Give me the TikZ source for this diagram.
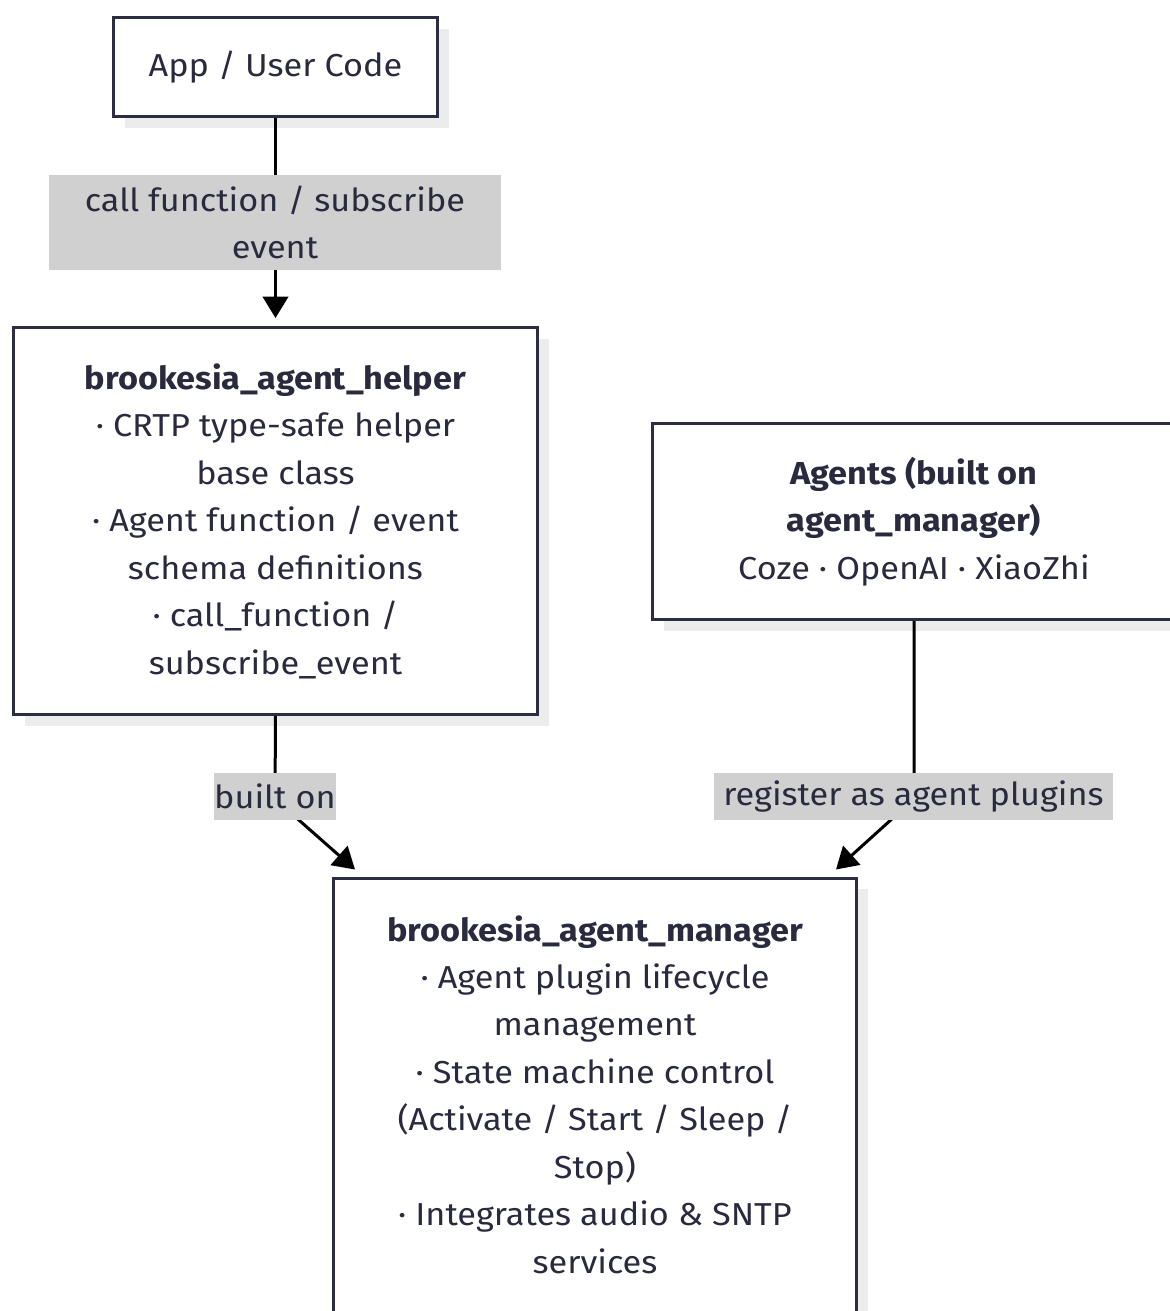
\documentclass[tikz,border=0pt]{standalone}
\usepackage{fontspec}
\setmainfont{Fira Sans}[FakeStretch=1.08]
\usetikzlibrary{arrows.meta,shadows}
\definecolor{ink}{HTML}{2A2A3E}
\definecolor{edgec}{HTML}{2D2D42}
\definecolor{shade}{HTML}{ECECEC}
\definecolor{lab}{HTML}{D0D0D0}
\newcommand\dgfont{\fontsize{23.8pt}{35.6pt}\selectfont}
\begin{document}
\begin{tikzpicture}[x=0.75pt,y=-0.75pt,
  box/.style={draw=edgec, line width=2.25pt, fill=white, text=ink, align=center,
    font=\dgfont, inner sep=0pt,
    drop shadow={shadow xshift=8.25pt, shadow yshift=-8.25pt, fill=shade, opacity=1}},
  txt/.style={text=ink, align=center, font=\dgfont, inner sep=0pt},
  lbl/.style={fill=lab, text=ink, align=center, font=\dgfont, inner sep=0pt},
  conn/.style={line width=2.25pt, black, -{Triangle[length=16pt,width=19pt]}}]
\useasboundingbox (0,0) rectangle (1170,1311);
\clip (0,0) rectangle (1170,1311);
\fill[white] (0,0) rectangle (1170,1311);

\node[box, minimum width=243pt, minimum height=74.25pt] (app) at (275.5,67) {App / User Code};

\node[box, minimum width=393pt, minimum height=290.25pt] (helper) at (275.5,521)
  {\textbf{brookesia\_agent\_helper}\\
   · CRTP type-safe helper\\ base class\\
   · Agent function / event\\ schema definitions\\
   · call\_function /\\ subscribe\_event};

\node[box, minimum width=392.25pt, minimum height=147pt] (agents) at (914,521.5)
  {\textbf{Agents (built on}\\ \textbf{agent\_manager)}\\ Coze · OpenAI · XiaoZhi};

\node[box, minimum width=392.25pt, minimum height=330pt] (mgr) at (595,1098) {};
\node[txt] (mgrtext) at (595,1094.5)
  {\textbf{brookesia\_agent\_manager}\\
   · Agent plugin lifecycle\\ management\\
   · State machine control\\ (Activate / Start / Sleep /\\ Stop)\\
   · Integrates audio \& SNTP\\ services};

\draw[conn, shorten >=6pt] (app.south) -- (helper.north);
\draw[conn] (helper.south) -- (275,799) -- ([shift={(23,-7)}]mgr.north west);
\draw[conn] (agents.south) -- (914,799) -- ([shift={(-22,-7)}]mgr.north east);

\node[lbl, minimum width=339pt, minimum height=71.25pt] (l1) at (275,222.5)
  {call function / subscribe\\ event};
\node[lbl, minimum width=91.5pt, minimum height=35.25pt] (l2) at (275,796.5) {built on};
\node[lbl, minimum width=299.25pt, minimum height=35.25pt] (l3) at (913.5,796.5) {register as agent plugins};
\end{tikzpicture}
\end{document}
